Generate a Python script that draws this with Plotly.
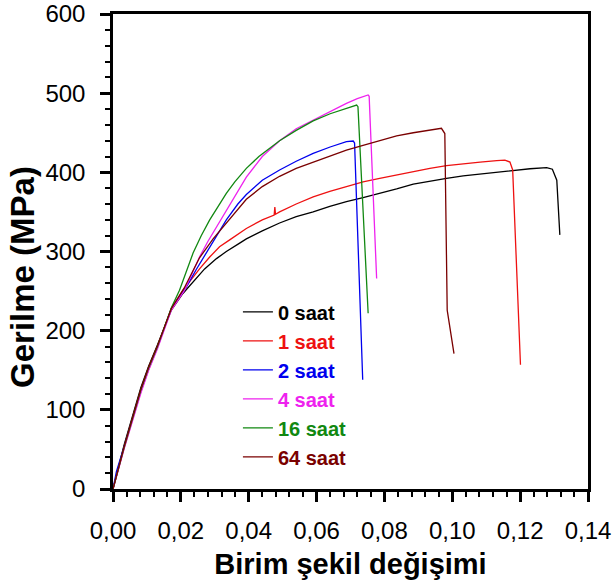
import plotly.graph_objects as go

# ---- data (strain, stress MPa) ----
series_names = ["0 saat", "1 saat", "2 saat", "4 saat", "16 saat", "64 saat"]

strain_0 = [0, 0.0033, 0.0082, 0.0105, 0.0131, 0.0172, 0.0206, 0.0236, 0.0270, 0.0305, 0.0334, 0.0371,
            0.0393, 0.0440, 0.0491, 0.0540, 0.0590, 0.0639, 0.0688, 0.0737, 0.0786, 0.0836, 0.0885,
            0.0934, 0.0983, 0.1032, 0.1082, 0.1131, 0.1180, 0.1229, 0.1278, 0.1295, 0.1308, 0.1309, 0.1317]
stress_0 = [0, 56, 128, 155, 182, 226, 247, 262, 278, 291, 300, 310,
            316, 326, 336, 344, 350, 357, 363, 368, 373, 379, 385,
            389, 392.5, 395.5, 398, 400.5, 402.5, 404.5, 406, 404, 390, 382, 321]

strain_1 = [0, 0.0033, 0.0082, 0.0105, 0.0131, 0.0172, 0.0206, 0.0230, 0.0255, 0.0285, 0.0314, 0.0345,
            0.0371, 0.0393, 0.0440, 0.0475, 0.0477, 0.0479, 0.0491, 0.0540, 0.0590, 0.0639, 0.0688,
            0.0737, 0.0786, 0.0836, 0.0885, 0.0934, 0.0983, 0.1032, 0.1082, 0.1131, 0.1155, 0.1170,
            0.1178, 0.1201]
stress_1 = [0, 52, 123, 151, 179, 228, 251, 265, 278, 293, 306, 315,
            323, 329, 340, 346, 356, 347, 350, 360, 369, 376, 382,
            388, 392.5, 397, 401.5, 405, 408.5, 411, 413, 414.7, 415.5, 413,
            403, 157]

strain_2 = [0, 0.0010, 0.0033, 0.0082, 0.0105, 0.0131, 0.0172, 0.0216, 0.0245, 0.0275, 0.0305, 0.0334,
            0.0368, 0.0393, 0.0440, 0.0491, 0.0540, 0.0590, 0.0640, 0.0688, 0.0708, 0.0712, 0.0736]
stress_2 = [0, 22, 54, 124, 152, 179, 228, 255, 277, 298, 320, 340,
            360, 372, 390, 403, 414, 424, 432, 438.7, 439.6, 437, 138]

strain_3 = [0, 0.0033, 0.0082, 0.0105, 0.0131, 0.0172, 0.0211, 0.0233, 0.0255, 0.0280, 0.0305, 0.0330,
            0.0354, 0.0393, 0.0440, 0.0491, 0.0540, 0.0590, 0.0639, 0.0688, 0.0720, 0.0752, 0.0755, 0.0777]
stress_3 = [0, 51, 121, 150, 177, 226, 251, 272, 293, 313, 331, 350,
            367, 394, 420, 440, 455, 466, 477, 487, 493, 497.7, 496, 266]

strain_4 = [0, 0.0033, 0.0082, 0.0105, 0.0131, 0.0172, 0.0196, 0.0216, 0.0236, 0.0260, 0.0285, 0.0310,
            0.0334, 0.0359, 0.0393, 0.0430, 0.0491, 0.0540, 0.0590, 0.0640, 0.0688, 0.0718, 0.0722, 0.0752]
stress_4 = [0, 53, 125, 153, 180, 229, 251, 275, 298, 320, 340, 357,
            373.5, 388, 405, 420, 440, 453, 465, 474, 481, 485, 483, 222]

strain_5 = [0, 0.0033, 0.0082, 0.0105, 0.0131, 0.0172, 0.0210, 0.0235, 0.0255, 0.0295, 0.0334, 0.0368,
            0.0393, 0.0440, 0.0491, 0.0540, 0.0590, 0.0639, 0.0688, 0.0737, 0.0786, 0.0836, 0.0885,
            0.0934, 0.0968, 0.0978, 0.0985, 0.1005]
stress_5 = [0, 54, 126, 154, 181, 228, 254, 276, 292, 316, 336, 354,
            366, 382, 395, 405, 413, 421, 428, 434, 440, 446, 450,
            453, 455.6, 449, 226, 171]

x_ticks = [0, 0.02, 0.04, 0.06, 0.08, 0.10, 0.12, 0.14]
y_ticks = [0, 100, 200, 300, 400, 500, 600]

# ---- styles ----
colors = ["#000000", "#ee1111", "#0000ee", "#ee22ee", "#118811", "#7a0000"]

strains = [strain_0, strain_1, strain_2, strain_3, strain_4, strain_5]
stresses = [stress_0, stress_1, stress_2, stress_3, stress_4, stress_5]

FONT = "Arial, Liberation Sans, sans-serif"

fig = go.Figure()
for name, xs, ys, c in zip(series_names, strains, stresses, colors):
    fig.add_trace(go.Scatter(
        x=xs, y=ys, mode="lines",
        line=dict(color=c, width=1.3),
        name='<b><span style="color:%s">%s</span></b>' % (c, name),
    ))

axis_common = dict(
    showline=True, mirror=True, linecolor="black", linewidth=2.5,
    ticks="outside", ticklen=10, tickwidth=2.5, tickcolor="black",
    showgrid=False, zeroline=False, automargin=False,
    ticklabeloverflow="allow",
    tickfont=dict(family=FONT, size=24, color="black"),
)

fig.update_xaxes(
    range=[0, 0.14], tickvals=x_ticks, tickformat=".2f",
    minor=dict(dtick=0.004, ticks="outside", ticklen=5, tickwidth=2, tickcolor="black"),
    ticklabelstandoff=8,
    title=dict(text="<b>Birim şekil değişimi</b>", font=dict(family=FONT, size=29, color="black"), standoff=12),
    **axis_common,
)
fig.update_yaxes(
    range=[0, 600], tickvals=y_ticks,
    minor=dict(dtick=20, ticks="outside", ticklen=5, tickwidth=2, tickcolor="black"),
    ticklabelstandoff=10,
    **axis_common,
)

fig.add_annotation(
    text="<b>Gerilme (MPa)</b>", textangle=-90,
    xref="paper", yref="paper", x=-0.192, y=0.446,
    xanchor="center", yanchor="middle", showarrow=False,
    font=dict(family=FONT, size=33, color="black"),
)

fig.update_layout(
    width=614, height=583,
    margin=dict(l=113, r=26, t=14, b=94, autoexpand=False),
    paper_bgcolor="white", plot_bgcolor="white",
    separators=",.",
    showlegend=True,
    legend=dict(
        x=0.263, y=0.414, xanchor="left", yanchor="top",
        bgcolor="rgba(0,0,0,0)", borderwidth=0,
        font=dict(family=FONT, size=20, color="black"),
        tracegroupgap=0,
    ),
)

fig.write_html(
    "out.html",
    config={"displayModeBar": False},
    post_script="document.body.style.margin='0';document.body.style.overflow='hidden';",
)
